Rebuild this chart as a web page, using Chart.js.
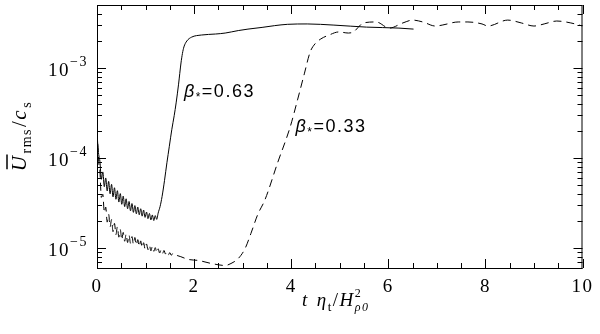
<!DOCTYPE html>
<html>
<head>
<meta charset="utf-8">
<script src="https://cdn.jsdelivr.net/npm/chart.js@4"></script>
<style>
  body { margin: 0; background: #fff; }
  canvas { display: block; }
</style>
</head>
<body>
<canvas id="growthChart" width="600" height="334"></canvas>
<script>
// beta* = 0.63 run (solid line)
const solidX = [0, 0.02, 0.04, 0.06, 0.09, 0.12, 0.15, 0.18, 0.21, 0.24, 0.27, 0.30, 0.33, 0.36, 0.39,
    0.42, 0.45, 0.48, 0.51, 0.54, 0.57, 0.60, 0.63, 0.66, 0.69, 0.72, 0.75, 0.78, 0.81, 0.84, 0.87,
    0.90, 0.93, 0.96, 0.99, 1.02, 1.05, 1.08, 1.11, 1.14, 1.17, 1.20, 1.23, 1.26, 1.30, 1.34, 1.39,
    1.44, 1.49, 1.54, 1.59, 1.63, 1.68, 1.73, 1.76, 1.79, 1.85, 1.95, 2.15, 2.44, 2.64, 2.91, 3.11,
    3.40, 3.66, 3.92, 4.33, 4.88, 5.55, 6.22, 6.52];
const solidY = [2.0e-4, 1.3e-4, 1.05e-4, 9.2e-5, 5.8e-5, 7.0e-5, 4.8e-5, 6.0e-5, 4.3e-5, 5.5e-5, 4.0e-5,
    5.1e-5, 3.7e-5, 4.67e-5, 3.48e-5, 4.33e-5, 3.24e-5, 4.02e-5, 3.06e-5, 3.77e-5, 2.88e-5, 3.52e-5,
    2.73e-5, 3.29e-5, 2.59e-5, 3.12e-5, 2.49e-5, 2.96e-5, 2.40e-5, 2.85e-5, 2.34e-5, 2.73e-5, 2.26e-5,
    2.64e-5, 2.19e-5, 2.51e-5, 2.12e-5, 2.42e-5, 2.05e-5, 2.33e-5, 2.02e-5, 2.29e-5, 2.08e-5, 2.45e-5,
    2.9e-5, 3.72e-5, 5.6e-5, 8.85e-5, 1.35e-4, 2.06e-4, 2.95e-4, 4.09e-4, 6.6e-4, 1.135e-3, 1.45e-3,
    1.71e-3, 1.99e-3, 2.20e-3, 2.32e-3, 2.38e-3, 2.44e-3, 2.60e-3, 2.70e-3, 2.82e-3, 2.95e-3, 3.05e-3,
    3.08e-3, 2.99e-3, 2.84e-3, 2.77e-3, 2.70e-3];

// beta* = 0.33 run (dashed line)
const dashedX = [0, 0.02, 0.04, 0.06, 0.09, 0.12, 0.15, 0.18, 0.21, 0.24, 0.27, 0.30, 0.33, 0.36, 0.39,
    0.42, 0.45, 0.48, 0.51, 0.54, 0.57, 0.60, 0.63, 0.66, 0.69, 0.72, 0.75, 0.78, 0.81, 0.84, 0.87,
    0.90, 0.93, 0.96, 0.99, 1.02, 1.05, 1.08, 1.11, 1.14, 1.17, 1.20, 1.23, 1.26, 1.29, 1.32, 1.35,
    1.38, 1.41, 1.44, 1.47, 1.50, 1.53, 1.56, 1.60, 1.65, 1.89, 2.09, 2.36, 2.64, 2.76, 2.91, 3.05,
    3.17, 3.31, 3.46, 3.72, 3.98, 4.13, 4.27, 4.39, 4.49, 4.61, 4.78, 4.98, 5.18, 5.28, 5.49, 5.75,
    6.02, 6.30, 6.50, 6.71, 6.97, 7.11, 7.44, 7.64, 7.93, 8.05, 8.46, 8.74, 9.00, 9.21, 9.47, 9.76, 10.0];
const dashedY = [2.0e-4, 1.3e-4, 8.4e-5, 7.0e-5, 3.65e-5, 3.96e-5, 2.48e-5, 2.85e-5, 1.94e-5, 2.37e-5,
    1.72e-5, 2.07e-5, 1.52e-5, 1.88e-5, 1.41e-5, 1.72e-5, 1.32e-5, 1.60e-5, 1.23e-5, 1.49e-5, 1.19e-5,
    1.43e-5, 1.15e-5, 1.39e-5, 1.13e-5, 1.34e-5, 1.10e-5, 1.31e-5, 1.08e-5, 1.24e-5, 1.04e-5, 1.20e-5,
    1.01e-5, 1.145e-5, 9.77e-6, 1.11e-5, 9.6e-6, 1.07e-5, 9.3e-6, 1.04e-5, 9.2e-6, 1.01e-5, 8.9e-6,
    9.8e-6, 8.8e-6, 9.5e-6, 8.7e-6, 9.4e-6, 8.6e-6, 9.1e-6, 8.4e-6, 8.9e-6, 8.3e-6, 8.7e-6, 8.35e-6,
    8.26e-6, 7.46e-6, 7.27e-6, 6.73e-6, 6.40e-6, 6.73e-6, 7.65e-6, 9.87e-6, 1.45e-5, 2.35e-5, 3.44e-5,
    8.85e-5, 2.22e-4, 4.41e-4, 8.59e-4, 1.50e-3, 1.85e-3, 2.10e-3, 2.32e-3, 2.51e-3, 2.44e-3, 2.51e-3,
    3.16e-3, 3.24e-3, 2.77e-3, 3.16e-3, 3.40e-3, 3.24e-3, 2.92e-3, 2.99e-3, 3.24e-3, 3.24e-3, 3.08e-3,
    2.92e-3, 3.40e-3, 3.16e-3, 2.92e-3, 3.08e-3, 3.32e-3, 3.16e-3, 2.92e-3];

// axis ticks
const xTickLabels = [0, 2, 4, 6, 8, 10];
const xMinorTicks = [0.5, 1, 1.5, 2.5, 3, 3.5, 4.5, 5, 5.5, 6.5, 7, 7.5, 8.5, 9, 9.5];
const yTickValues = [1e-5, 1e-4, 1e-3];
const yTickExponents = ['\u22125', '\u22124', '\u22123'];

// curve labels (value positions)
const curveLabels = [
    { x: 1.79, y: 4.78e-4, value: '0.63' },
    { x: 4.09, y: 1.95e-4, value: '0.33' }
];

const SERIF = '"Liberation Serif", "DejaVu Serif", serif';
const SANS = '"Liberation Sans", Arial, sans-serif';

function toPoints(xs, ys) {
    return xs.map((x, i) => ({ x: x, y: ys[i] }));
}

// draws a row of text pieces (font / vertical shift) starting at x
function drawPieces(ctx, pieces, x, y) {
    pieces.forEach(p => {
        ctx.font = p.font;
        if (p.t) ctx.fillText(p.t, x + (p.dx || 0), y + (p.dy || 0));
        if (!p.stack) x += ctx.measureText(p.t).width + (p.dx || 0);
    });
    return x;
}

function piecesWidth(ctx, pieces) {
    let w = 0;
    pieces.forEach(p => {
        ctx.font = p.font;
        if (!p.stack) w += ctx.measureText(p.t).width + (p.dx || 0);
    });
    return w;
}

// wider glyph spacing, closer to the vector font of the original
const spacing = {
    id: 'spacing',
    beforeDraw(chart) {
        chart.ctx.letterSpacing = '1.5px';
    }
};

const frameAndText = {
    id: 'frameAndText',
    afterDraw(chart) {
        const { ctx, chartArea: a, scales: { x, y } } = chart;
        ctx.save();
        ctx.strokeStyle = '#000';
        ctx.fillStyle = '#000';
        ctx.lineWidth = 1;

        // frame
        ctx.strokeRect(a.left + 0.5, a.top + 0.5, a.right - a.left - 1, a.bottom - a.top);

        // inward tick marks
        ctx.beginPath();
        xTickLabels.concat(xMinorTicks).forEach(v => {
            const len = xTickLabels.includes(v) ? 9 : 5;
            const px = Math.round(x.getPixelForValue(v)) + 0.5;
            ctx.moveTo(px, a.bottom); ctx.lineTo(px, a.bottom - len);
            ctx.moveTo(px, a.top); ctx.lineTo(px, a.top + len);
        });
        for (let d = -6; d <= -3; d++) {
            for (let m = 1; m <= 9; m++) {
                const v = m * Math.pow(10, d);
                if (v < y.min || v > y.max) continue;
                const len = m === 1 ? 9 : 5;
                const py = Math.round(y.getPixelForValue(v)) + 0.5;
                ctx.moveTo(a.left, py); ctx.lineTo(a.left + len, py);
                ctx.moveTo(a.right, py); ctx.lineTo(a.right - len, py);
            }
        }
        ctx.stroke();

        // y tick labels 10^n
        ctx.textBaseline = 'alphabetic';
        ctx.textAlign = 'left';
        yTickValues.forEach((v, i) => {
            const py = y.getPixelForValue(v);
            drawPieces(ctx, [
                { t: '10', font: '19px ' + SERIF },
                { t: yTickExponents[i], font: '14px ' + SERIF, dy: -10, dx: 0 }
            ], 48, py + 8);
        });

        // y axis title
        ctx.save();
        ctx.translate(26, 136);
        ctx.rotate(-Math.PI / 2);
        const yTitle = [
            { t: 'U', font: 'italic 21px ' + SERIF },
            { t: 'rms', font: '14px ' + SERIF, dy: 5, dx: 1 },
            { t: '/', font: '21px ' + SERIF, dx: 1 },
            { t: 'c', font: 'italic 21px ' + SERIF },
            { t: 's', font: '14px ' + SERIF, dy: 5, dx: 1 }
        ];
        const yw = piecesWidth(ctx, yTitle);
        const ys = -yw / 2;
        ctx.font = 'italic 21px ' + SERIF;
        const uw = ctx.measureText('U').width;
        drawPieces(ctx, yTitle, ys, 0);
        ctx.beginPath();
        ctx.lineWidth = 1.5;
        ctx.moveTo(ys + 2, -19);
        ctx.lineTo(ys + uw, -19);
        ctx.stroke();
        ctx.restore();

        // x axis title
        drawPieces(ctx, [
            { t: 't', font: 'italic 19px ' + SERIF },
            { t: '', font: '19px ' + SERIF, dx: 8 },
            { t: '\u03b7', font: 'italic 19px ' + SERIF },
            { t: 't', font: '13px ' + SERIF, dy: 5, dx: 0 },
            { t: '/', font: '19px ' + SERIF, dx: 0 },
            { t: 'H', font: 'italic 19px ' + SERIF },
            { t: '2', font: '12px ' + SERIF, dy: -9, dx: 0, stack: true },
            { t: '\u03c10', font: 'italic 12px ' + SERIF, dy: 5, dx: 0 }
        ], 302, 306);

        // curve labels beta* = ...
        curveLabels.forEach(l => {
            const px = x.getPixelForValue(l.x);
            const py = y.getPixelForValue(l.y);
            drawPieces(ctx, [
                { t: '\u03b2', font: 'italic 18px ' + SANS },
                { t: '*', font: '12px ' + SANS, dy: 4 },
                { t: '=' + l.value, font: '18px ' + SANS, dx: 0 }
            ], px, py);
        });

        ctx.restore();
    }
};

const ctx = document.getElementById('growthChart').getContext('2d');
new Chart(ctx, {
    type: 'line',
    data: {
        datasets: [{
            label: 'beta 0.63',
            data: toPoints(solidX, solidY),
            borderColor: '#000',
            borderWidth: 1,
            pointRadius: 0,
            fill: false,
            cubicInterpolationMode: 'monotone'
        }, {
            label: 'beta 0.33',
            data: toPoints(dashedX, dashedY),
            borderColor: '#000',
            borderWidth: 1,
            borderDash: [8, 5],
            pointRadius: 0,
            fill: false,
            cubicInterpolationMode: 'monotone'
        }]
    },
    options: {
        responsive: false,
        animation: false,
        layout: { padding: { top: 5, right: 11, left: 0, bottom: 0 } },
        plugins: {
            legend: { display: false },
            tooltip: { enabled: false }
        },
        scales: {
            x: {
                type: 'linear',
                min: 0,
                max: 10,
                afterFit: s => { s.height = 66; },
                grid: { display: false, drawTicks: false },
                border: { display: false },
                ticks: {
                    stepSize: 2,
                    padding: 8,
                    color: '#000',
                    maxRotation: 0,
                    autoSkip: false,
                    font: { family: SERIF, size: 19 }
                }
            },
            y: {
                type: 'logarithmic',
                min: 6e-6,
                max: 5e-3,
                afterFit: s => { s.width = 97; },
                grid: { display: false, drawTicks: false },
                border: { display: false },
                ticks: { display: false }
            }
        }
    },
    plugins: [spacing, frameAndText]
});
</script>
</body>
</html>
